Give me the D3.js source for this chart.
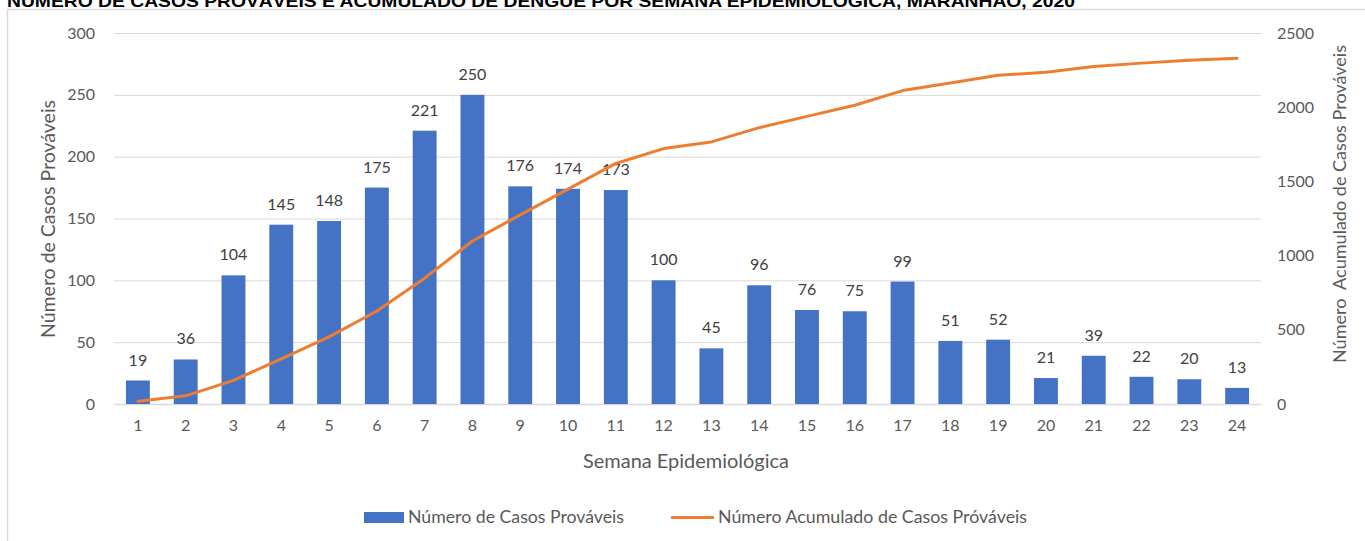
<!DOCTYPE html>
<html><head><meta charset="utf-8">
<script src="https://cdn.jsdelivr.net/npm/d3@7"></script>
<style>body{margin:0;background:#fff;overflow:hidden}svg{display:block}</style>
</head><body>
<svg id="c" width="1365" height="541"></svg>
<script>
const weeks = ["1","2","3","4","5","6","7","8","9","10","11","12","13","14","15","16","17","18","19","20","21","22","23","24"];
const casos = [19,36,104,145,148,175,221,250,176,174,173,100,45,96,76,75,99,51,52,21,39,22,20,13];
const acumulado = [19,55,159,304,452,627,848,1098,1274,1448,1621,1721,1766,1862,1938,2013,2112,2163,2215,2236,2275,2297,2317,2330];
const leftTicks = [0,50,100,150,200,250,300];
const rightTicks = [0,500,1000,1500,2000,2500];
const title = "NÚMERO DE CASOS PROVÁVEIS E ACUMULADO DE DENGUE POR SEMANA EPIDEMIOLÓGICA, MARANHÃO, 2020";

const svg = d3.select("#c");
const font = "Lato, 'Open Sans', sans-serif";
const grey = "#595959";
const L = 114, R = 1261, T = 33, B = 404;

// chart border
svg.append("rect").attr("x",7.5).attr("y",9.5).attr("width",1400).attr("height",600)
  .attr("fill","#fff").attr("stroke","#D9D9D9").attr("stroke-width",1.5);
// title (cut off at top, as in the source)
svg.append("text").attr("x",7).attr("y",6.5).attr("font-family","'Liberation Sans', Arial, sans-serif")
  .attr("font-weight","bold").attr("font-size",17).attr("fill","#000")
  .attr("textLength",1068).attr("lengthAdjust","spacingAndGlyphs").text(title);

const x = d3.scaleBand().domain(weeks).range([L,R]).paddingInner(0.5).paddingOuter(0.25);
const yL = d3.scaleLinear().domain([0,300]).range([B,T]);
const yR = d3.scaleLinear().domain([0,2500]).range([B,T]);

// grid
svg.append("g").selectAll("line").data(leftTicks).join("line")
  .attr("x1",L).attr("x2",R).attr("y1",d=>yL(d)+0.5).attr("y2",d=>yL(d)+0.5)
  .attr("stroke","#D9D9D9").attr("stroke-width",1);

// left axis
const gl = svg.append("g").attr("transform",`translate(${L},0)`)
  .call(d3.axisLeft(yL).tickValues(leftTicks).tickSize(0).tickPadding(19));
gl.select(".domain").remove();
gl.selectAll("text").attr("font-family",font).attr("font-size",16).attr("fill",grey);

// right axis
const gr = svg.append("g").attr("transform",`translate(${R},0)`)
  .call(d3.axisRight(yR).tickValues(rightTicks).tickFormat(d3.format("d")).tickSize(0).tickPadding(16));
gr.select(".domain").remove();
gr.selectAll("text").attr("font-family",font).attr("font-size",16).attr("fill",grey);

// bottom axis
const gb = svg.append("g").attr("transform",`translate(0,${B})`)
  .call(d3.axisBottom(x).tickSize(0).tickPadding(16));
gb.select(".domain").attr("stroke","#D9D9D9").attr("stroke-width",1.5);
gb.selectAll("text").attr("font-family",font).attr("font-size",16).attr("fill",grey);

// bars
svg.append("g").selectAll("rect").data(casos).join("rect")
  .attr("x",(d,i)=>x(weeks[i])).attr("width",x.bandwidth())
  .attr("y",d=>yL(d)).attr("height",d=>B-yL(d)).attr("fill","#4472C4");

// bar labels
svg.append("g").selectAll("text").data(casos).join("text")
  .attr("x",(d,i)=>x(weeks[i])+x.bandwidth()/2).attr("y",d=>yL(d)-15)
  .attr("text-anchor","middle").attr("font-family",font).attr("font-size",16).attr("fill","#404040")
  .text(d=>d);

// line
const line = d3.line().x((d,i)=>x(weeks[i])+x.bandwidth()/2).y(d=>yR(d));
svg.append("path").datum(acumulado).attr("d",line).attr("fill","none")
  .attr("stroke","#ED7D31").attr("stroke-width",3).attr("stroke-linejoin","round").attr("stroke-linecap","round");

// axis titles
svg.append("text").attr("transform","translate(55,219) rotate(-90)").attr("text-anchor","middle")
  .attr("font-family",font).attr("font-size",19).attr("fill",grey)
  .attr("textLength",238).attr("lengthAdjust","spacingAndGlyphs").text("Número de Casos Prováveis");
svg.append("text").attr("transform","translate(1346,204) rotate(-90)").attr("text-anchor","middle")
  .attr("font-family",font).attr("font-size",18).attr("fill",grey).attr("xml:space","preserve")
  .attr("textLength",318).attr("lengthAdjust","spacingAndGlyphs").text("Número  Acumulado de Casos Prováveis");
svg.append("text").attr("x",686).attr("y",468).attr("text-anchor","middle")
  .attr("font-family",font).attr("font-size",19).attr("fill",grey)
  .attr("textLength",206).attr("lengthAdjust","spacingAndGlyphs").text("Semana Epidemiológica");

// legend
const lg = svg.append("g");
lg.append("rect").attr("x",364).attr("y",512).attr("width",40).attr("height",11).attr("fill","#4472C4");
lg.append("text").attr("x",408).attr("y",523).attr("font-family",font).attr("font-size",17).attr("fill",grey)
  .attr("textLength",216).attr("lengthAdjust","spacingAndGlyphs").text("Número de Casos Prováveis");
lg.append("line").attr("x1",671).attr("x2",714).attr("y1",517.5).attr("y2",517.5).attr("stroke","#ED7D31").attr("stroke-width",3);
lg.append("text").attr("x",718).attr("y",523).attr("font-family",font).attr("font-size",17).attr("fill",grey)
  .attr("textLength",309).attr("lengthAdjust","spacingAndGlyphs").text("Número Acumulado de Casos Próváveis");
</script>
</body></html>
